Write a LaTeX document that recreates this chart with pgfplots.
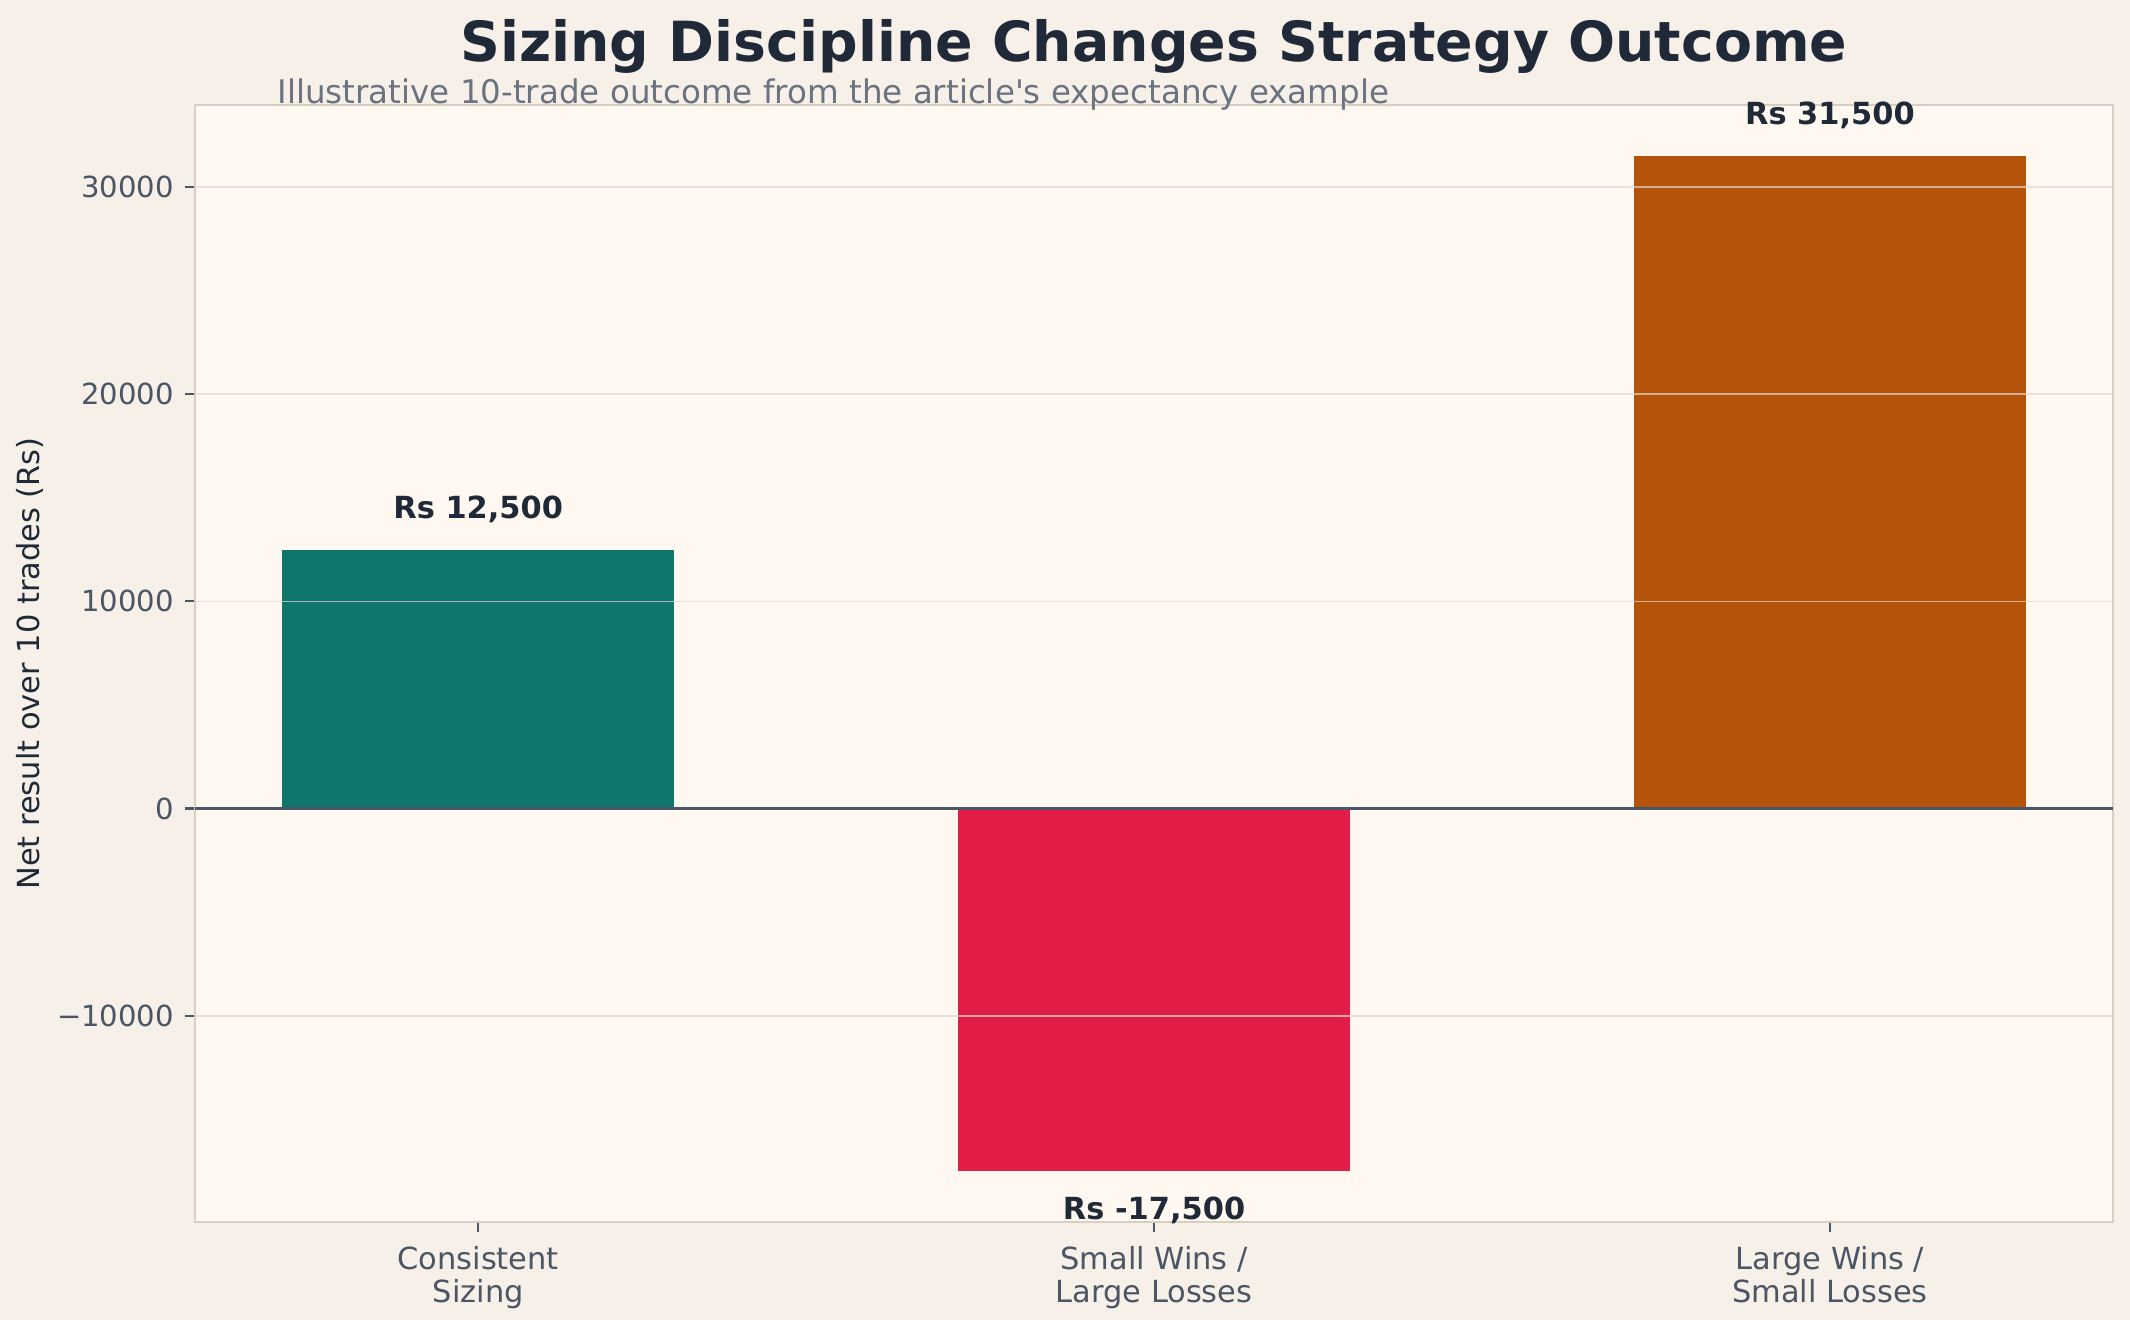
\documentclass[border=0pt]{standalone}
\usepackage{fontspec}
\setmainfont{DejaVu Sans}
\usepackage{pgfplots}
\pgfplotsset{compat=1.18}
\usetikzlibrary{backgrounds}

\definecolor{figbg}{HTML}{F6F0E9}
\definecolor{axbg}{HTML}{FEF8F1}
\definecolor{spine}{HTML}{D8CEC2}
\definecolor{gridc}{HTML}{E3D8CA}
\definecolor{ink}{HTML}{1F2937}
\definecolor{sub}{HTML}{6B7280}
\definecolor{tickc}{HTML}{4B5563}
\definecolor{zeroc}{HTML}{475569}
\definecolor{teal}{HTML}{0F766E}
\definecolor{crimson}{HTML}{E11D48}
\definecolor{amber}{HTML}{B45309}

\tikzset{vlabel/.style={anchor=base, font=\fontsize{11}{13}\selectfont\bfseries, text=ink, inner sep=0pt}}

\begin{document}
\begin{tikzpicture}[x=1bp,y=1bp]
% page: 2130 x 1320 px at 0.36 bp per px; axis box 1918 x 1117 px
\begin{axis}[
  name=ax,
  scale only axis, width=690.5bp, height=402.1bp,
  xmin=-0.419, xmax=2.419, ymin=-19950, ymax=33950,
  axis background/.style={fill=axbg},
  axis line style={spine, line width=0.8bp},
  axis on top,
  ybar, bar width=0.58, bar shift=0pt,
  xtick={0,1,2}, xticklabels={Consistent\\Sizing, Small Wins /\\Large Losses, Large Wins /\\Small Losses},
  xticklabel style={align=center, font=\fontsize{11}{12}\selectfont, text=tickc, inner sep=0pt, yshift=-5bp},
  ytick={-10000,0,10000,20000,30000},
  yticklabels={−10000,0,10000,20000,30000},
  yticklabel style={font=\fontsize{10.5}{12}\selectfont, text=tickc, inner sep=0pt, xshift=-3.9bp},
  scaled y ticks=false,
  tick align=outside, major tick length=3.5bp,
  tick style={tickc, line width=0.8bp},
  xtick pos=bottom, ytick pos=left,
  ymajorgrids, xmajorgrids=false,
  major grid style={gridc, line width=0.6bp, opacity=0.7},
  clip=false,
]
\addplot[fill=teal, draw=none] coordinates {(0,12500)};
\addplot[fill=crimson, draw=none] coordinates {(1,-17500)};
\addplot[fill=amber, draw=none] coordinates {(2,31500)};
\coordinate (z0) at (axis cs:-0.419,0);
\coordinate (z1) at (axis cs:2.419,0);
\coordinate (l0) at (axis cs:0,14000);
\coordinate (l1) at (axis cs:1,-19820);
\coordinate (l2) at (axis cs:2,33000);
\end{axis}
% drawn after the axis so they sit above grid and spines
\draw[zeroc, line width=1.3bp] (z0) -- (z1);
\node[vlabel] at (l0) {Rs 12,500};
\node[vlabel] at (l1) {Rs -17,500};
\node[vlabel] at (l2) {Rs 31,500};
\begin{scope}[shift={(ax.south west)}]
  \node[rotate=90, anchor=center, font=\fontsize{11}{13}\selectfont, text=ink, inner sep=0pt] at (-59.6,201.05) {Net result over 10 trades (Rs)};
  \node[anchor=base, font=\fontsize{20}{24}\selectfont\bfseries, text=ink, inner sep=0pt] at (345.2,417.6) {Sizing Discipline Changes Strategy Outcome};
  \node[anchor=base west, font=\fontsize{11.75}{14}\selectfont, text=sub, inner sep=0pt] at (29.5,402.8) {Illustrative 10-trade outcome from the article\textquotesingle s expectancy example};
  \begin{scope}[on background layer]
    \fill[figbg] (-70.2,-35.28) rectangle ++(766.8,475.2);
  \end{scope}
  \pgfresetboundingbox
  \path[use as bounding box] (-70.2,-35.28) rectangle ++(766.8,475.2);
\end{scope}
\end{tikzpicture}
\end{document}
